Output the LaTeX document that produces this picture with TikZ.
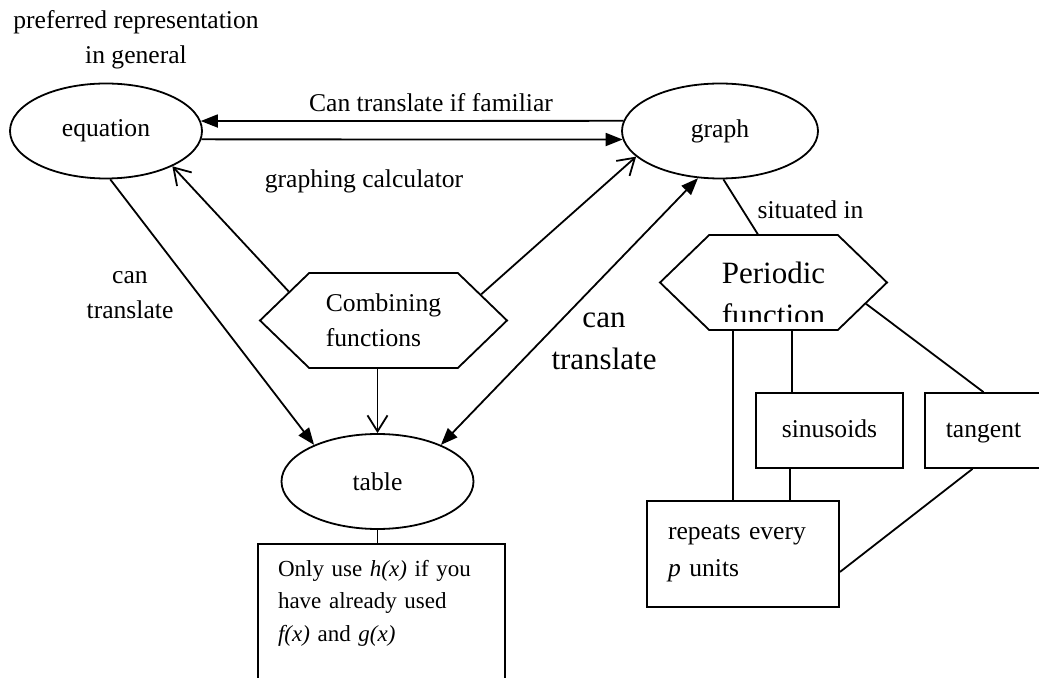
\documentclass[tikz,border=0pt]{standalone}
\usepackage{fontspec}
\setmainfont{Liberation Serif}
\usetikzlibrary{arrows.meta,shapes.geometric,shapes.symbols}

\begin{document}
\begin{tikzpicture}[x=0.5pt, y=-0.5pt,
  every node/.style={font=\fontsize{12.8}{17.5}\selectfont},
  ell/.style={draw, ellipse, inner sep=0pt, minimum width=96pt, minimum height=47.5pt},
  hexa/.style={draw, signal, signal to=west and east, signal pointer angle=88, inner sep=0pt, minimum height=47.5pt},
  box/.style={draw, rectangle, inner sep=0pt},
  big/.style={font=\fontsize{15.5}{21}\selectfont},
  arr/.style={-{Triangle[length=8.5pt,width=6.5pt]}},
  dbl/.style={{Triangle[length=8.5pt,width=6.5pt]}-{Triangle[length=8.5pt,width=6.5pt]}},
  barb/.style={-{Straight Barb[length=8pt,width=10pt]}},
  line width=0.9pt]
\useasboundingbox (0,0) rectangle (1039,678);

% representations
\node[align=center] (pref) at (136,40) {preferred representation\\in general};
\node[ell] (eq) at (106,131) {equation};
\node[ell, minimum width=98pt] (graph) at (720,131) {graph};
\node[ell] (table) at (377.5,481.5) {table};
\node[hexa, minimum width=123.5pt, align=left] (comb) at (383.5,320.5) {Combining\\functions};

% periodic function and its boxes
\node[hexa, minimum width=113.5pt] (per) at (773.5,282.5) {};
\begin{scope}
  \clip (650,230) rectangle (900,322);
  \node[big, align=center] (pertext) at (773.5,294) {Periodic\\function};
\end{scope}
\node[box, minimum width=73.5pt, minimum height=37.5pt] (sin) at (829.5,430.5) {\strut sinusoids};
\node[box, minimum width=58.5pt, minimum height=37.5pt] (tan) at (983.5,430.5) {\strut tangent};
\node[box, minimum height=53pt, text width=75pt, inner xsep=10.5pt, align=left,
  font=\fontsize{12.8}{18.5}\selectfont] (rep) at (743,554) {repeats every\\\textit{p} units};
\node[box, anchor=north, minimum height=78pt, text width=103.5pt, inner xsep=10pt, align=left,
  font=\fontsize{11.5}{16.25}\selectfont] (note) at (381.5,543)
  {Only use \textit{h(x)} if you\\have already used\\\textit{f(x)} and \textit{g(x)}\\\strut};

% translations
\draw[arr] (graph.174) -- (eq.6);
\draw[arr] (eq.-5.4) -- (graph.185.4);
\node (famlbl) at (431,103) {Can translate if familiar};
\node (gclbl) at (364,181) {graphing calculator};
\draw[arr] (eq.-85) -- (table.150);
\draw[dbl] (table.30) -- (graph.245);
\node[align=center] (lcan) at (130,295.5) {can\\translate};
\node[big, align=center] (rcan) at (604,341) {can\\translate};

% combining functions
\draw[barb] (comb.163) -- (eq.-28);
\draw[barb] (comb.15) -- (graph.197);
\draw[barb] (comb.south -| table.north) -- (table.north);

% links on the right
\draw (graph.-86) -- (per.108);
\node[anchor=west] (sitlbl) at (750,210) {situated in};
\draw ([xshift=-5pt]rep.north) -- ([xshift=-5pt]rep.north |- per.south);
\draw ([xshift=-18.75pt]sin.north) -- ([xshift=-18.75pt]sin.north |- per.south);
\draw (per.-13.5) -- (tan.north);
\draw ([xshift=-19.75pt]sin.south) -- ([xshift=-19.75pt]sin.south |- rep.north);
\draw ([xshift=-5.5pt]tan.south) -- ([yshift=-9pt]rep.east);
\draw (table.south) -- (table.south |- note.north);
\end{tikzpicture}
\end{document}
